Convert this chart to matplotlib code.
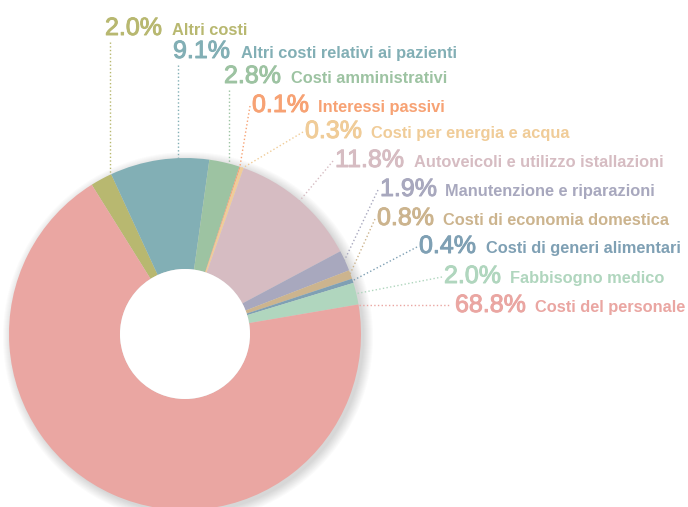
import numpy as np
import matplotlib.pyplot as plt
import matplotlib.patheffects as pe
from matplotlib.patches import Circle

plt.rcParams['font.family'] = ['Liberation Sans', 'DejaVu Sans']

labels = ['Altri costi', 'Altri costi relativi ai pazienti', 'Costi amministrativi',
          'Interessi passivi', 'Costi per energia e acqua',
          'Autoveicoli e utilizzo istallazioni', 'Manutenzione e riparazioni',
          'Costi di economia domestica', 'Costi di generi alimentari',
          'Fabbisogno medico', 'Costi del personale']
values = [2.0, 9.1, 2.8, 0.1, 0.3, 11.8, 1.9, 0.8, 0.4, 2.0, 68.8]
colors = ['#b8b870', '#82afb5', '#9dc3a2', '#f7a274', '#f0cc98', '#d6bcc2',
          '#a8a8be', '#ccb48e', '#7fa0b4', '#b0d6be', '#eaa6a2']

# label layout in pixels: percent x, name x, baseline y (from top)
pct_x = [105, 173, 224, 252, 305, 335, 380, 377, 419, 444, 455]
name_x = [172, 241, 291, 318, 371, 414, 445, 443, 486, 510, 535]
base_y = [35, 58, 83, 112, 138, 167, 196, 225, 253, 283, 312]
line_kind = ['v', 'v', 'v', 'd', 'd', 'd', 'd', 'd', 'd', 'd', 'h']

W, H = 688, 507
cx, cy = 185, H - 334
R, r_in = 176, 65

fig = plt.figure(figsize=(6.88, 5.07), dpi=100)
ax = fig.add_axes([0, 0, 1, 1])

# soft shadow under the ring
for i in range(10):
    ax.add_patch(Circle((cx + 3, cy - 3), R + i * 1.0, color='#555555',
                        alpha=0.025, lw=0, zorder=0))

wedges, _ = ax.pie(values, colors=colors, startangle=122, counterclock=False,
                   center=(cx, cy), radius=R, frame=True,
                   wedgeprops=dict(width=R - r_in, linewidth=0, zorder=1))
ax.add_patch(Circle((cx, cy), r_in, color='white', lw=0, zorder=2))

for i, w in enumerate(wedges):
    c = colors[i]
    px, nx, by = pct_x[i], name_x[i], base_y[i]
    ax.text(px, H - by, f'{values[i]:.1f}%', color=c, fontsize=18,
            va='baseline', ha='left',
            path_effects=[pe.withStroke(linewidth=0.7, foreground=c)])
    ax.text(nx, H - by, labels[i], color=c, fontsize=11.8, fontweight='bold',
            va='baseline', ha='left')
    kind = line_kind[i]
    if kind == 'v':
        x = px + 5
        y0 = H - (by + 7)
        y1 = cy + np.sqrt(R ** 2 - (x - cx) ** 2)
        ax.plot([x, x], [y0, y1], ls=':', lw=1, color=c, zorder=3)
    elif kind == 'd':
        mid = np.radians((w.theta1 + w.theta2) / 2)
        ex, ey = cx + (R - 1) * np.cos(mid), cy + (R - 1) * np.sin(mid)
        ax.plot([px - 2, ex], [H - (by - 6), ey], ls=':', lw=1, color=c, zorder=3)
    else:
        y = H - (by - 7)
        x0 = cx + np.sqrt(R ** 2 - (y - cy) ** 2)
        ax.plot([x0, px - 4], [y, y], ls=':', lw=1, color=c, zorder=3)

ax.set_xlim(0, W)
ax.set_ylim(0, H)
ax.set_aspect('equal')
ax.axis('off')

fig.savefig('out.png', dpi=100)
